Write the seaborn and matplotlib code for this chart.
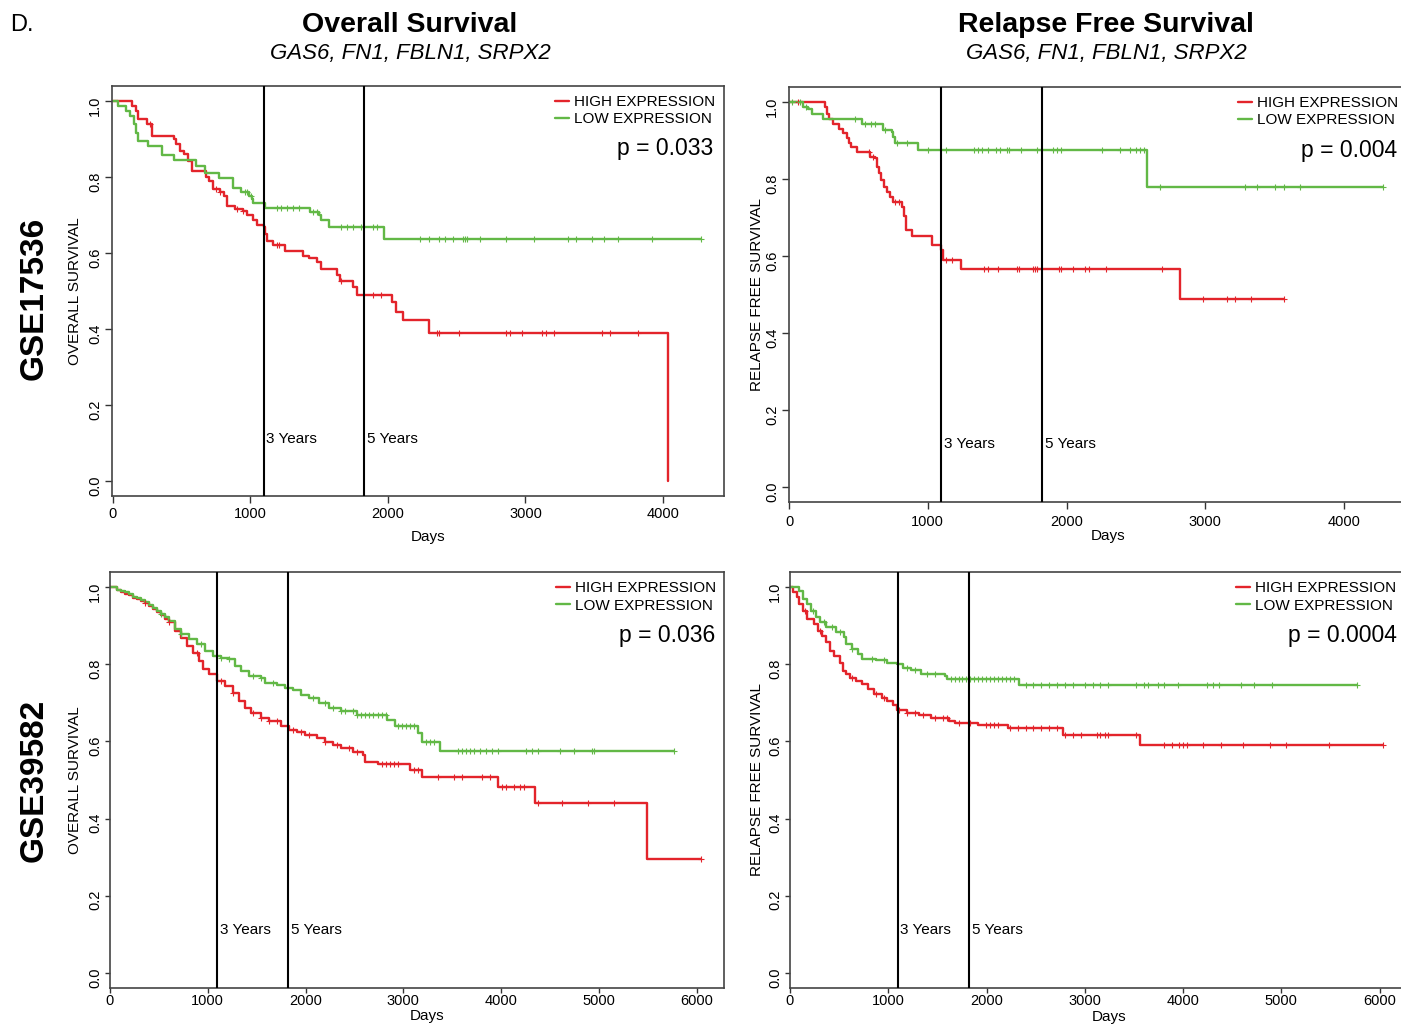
import numpy as np
import pandas as pd
import matplotlib
matplotlib.use('Agg')
import matplotlib.pyplot as plt
import seaborn as sns


# Kaplan-Meier step data (days, survival)

# GSE17536 - overall survival
os17_high_t = [140, 164, 184, 251, 286, 447, 461, 490, 520, 549, 578, 680, 701, 730, 782, 806, 826, 885,
               943, 972, 1016, 1045, 1095, 1104, 1118, 1162, 1250, 1381, 1425, 1483, 1512, 1629, 1650,
               1746, 1775, 2029, 2061, 2111, 2295, 4038]
os17_high_s = [0.987, 0.974, 0.954, 0.941, 0.908, 0.900, 0.886, 0.869, 0.860, 0.843, 0.817, 0.799, 0.790,
               0.769, 0.760, 0.751, 0.725, 0.716, 0.712, 0.699, 0.686, 0.675, 0.668, 0.651, 0.633, 0.620,
               0.605, 0.592, 0.587, 0.576, 0.557, 0.541, 0.526, 0.511, 0.489, 0.472, 0.445, 0.424, 0.390, 0.0]
os17_high_end = 4038
os17_high_cens = [271, 753, 782, 899, 943, 1191, 1206, 1658, 1892, 1950, 2359, 2374, 2520, 2855, 2885,
                  2972, 3118, 3147, 3206, 3556, 3615, 3819]

os17_low_t = [38, 96, 126, 155, 169, 184, 257, 359, 447, 607, 666, 768, 870, 928, 987, 1010, 1022, 1104,
              1431, 1498, 1512, 1571, 1974]
os17_low_s = [0.987, 0.974, 0.961, 0.939, 0.917, 0.895, 0.882, 0.859, 0.845, 0.830, 0.812, 0.797, 0.771,
              0.760, 0.751, 0.742, 0.731, 0.719, 0.707, 0.699, 0.686, 0.668, 0.638]
os17_low_end = 4277
os17_low_cens = [958, 972, 1001, 1191, 1220, 1264, 1308, 1352, 1454, 1483, 1658, 1702, 1746, 1804, 1892,
                 1921, 2234, 2301, 2374, 2418, 2476, 2549, 2563, 2578, 2666, 2855, 3060, 3308, 3367, 3483,
                 3571, 3673, 3921, 4277]

# GSE17536 - relapse free survival
rfs17_high_t = [257, 271, 291, 319, 362, 391, 419, 433, 448, 490, 585, 619, 633, 647, 662, 681, 704, 727,
                747, 813, 827, 841, 884, 1027, 1098, 1112, 1238, 2814]
rfs17_high_s = [0.989, 0.971, 0.958, 0.945, 0.932, 0.919, 0.906, 0.894, 0.885, 0.872, 0.859, 0.855, 0.833,
                0.816, 0.798, 0.781, 0.768, 0.755, 0.742, 0.729, 0.703, 0.668, 0.651, 0.629, 0.616, 0.590,
                0.566, 0.487]
rfs17_high_end = 3570
rfs17_high_cens = [63, 576, 605, 761, 790, 1132, 1175, 1403, 1431, 1503, 1645, 1660, 1759, 1774, 1788,
                   1945, 1959, 2044, 2130, 2158, 2287, 2686, 2985, 3157, 3214, 3328, 3570]

rfs17_low_t = [100, 134, 163, 248, 528, 676, 739, 747, 761, 932, 2581]
rfs17_low_s = [0.989, 0.983, 0.971, 0.957, 0.944, 0.928, 0.924, 0.911, 0.895, 0.876, 0.779]
rfs17_low_end = 4283
rfs17_low_cens = [20, 77, 120, 476, 547, 590, 619, 690, 776, 847, 1004, 1132, 1332, 1360, 1389, 1431,
                  1488, 1517, 1574, 1588, 1674, 1788, 1902, 1930, 1959, 2258, 2387, 2458, 2501, 2529,
                  2558, 2672, 3285, 3370, 3499, 3570, 3684, 4283]

# GSE39582 - overall survival
os39_high_t = [70, 111, 152, 193, 234, 275, 316, 357, 398, 439, 480, 521, 562, 603, 664, 726, 788, 849,
               911, 952, 1013, 1095, 1177, 1259, 1321, 1382, 1444, 1546, 1628, 1751, 1833, 1915, 1998,
               2121, 2203, 2285, 2367, 2490, 2592, 2613, 2736, 3064, 3187, 3966, 4348, 5492]
os39_high_s = [0.994, 0.988, 0.984, 0.979, 0.973, 0.969, 0.965, 0.959, 0.952, 0.945, 0.936, 0.928, 0.917,
               0.909, 0.887, 0.869, 0.848, 0.830, 0.808, 0.787, 0.774, 0.756, 0.743, 0.726, 0.704, 0.686,
               0.673, 0.660, 0.652, 0.639, 0.630, 0.625, 0.617, 0.608, 0.599, 0.591, 0.582, 0.573, 0.564,
               0.547, 0.541, 0.525, 0.508, 0.483, 0.441, 0.294]
os39_high_end = 6046
os39_high_cens = [357, 603, 890, 1136, 1259, 1464, 1546, 1628, 1710, 1874, 1956, 2039, 2203, 2326, 2449,
                  2531, 2777, 2818, 2859, 2900, 2941, 3105, 3146, 3351, 3515, 3597, 3802, 3884, 4007,
                  4048, 4130, 4192, 4233, 4377, 4623, 4889, 5156, 6046]

os39_low_t = [70, 111, 152, 193, 234, 275, 316, 357, 398, 439, 480, 521, 562, 603, 664, 726, 808, 890,
              972, 1054, 1136, 1218, 1280, 1341, 1423, 1546, 1587, 1710, 1792, 1874, 1956, 2039, 2141,
              2244, 2367, 2531, 2838, 2920, 3146, 3187, 3372]
os39_low_s = [0.994, 0.991, 0.987, 0.982, 0.976, 0.972, 0.967, 0.961, 0.954, 0.946, 0.940, 0.932, 0.924,
              0.913, 0.891, 0.878, 0.865, 0.852, 0.834, 0.821, 0.817, 0.813, 0.795, 0.782, 0.769, 0.765,
              0.752, 0.747, 0.739, 0.734, 0.721, 0.713, 0.699, 0.686, 0.678, 0.669, 0.656, 0.639, 0.621,
              0.599, 0.575]
os39_low_end = 5771
os39_low_cens = [521, 726, 931, 1136, 1218, 1464, 1546, 1669, 2080, 2203, 2285, 2367, 2408, 2490, 2531,
                 2572, 2613, 2654, 2695, 2736, 2777, 2818, 2941, 2982, 3023, 3064, 3105, 3228, 3269, 3310,
                 3556, 3597, 3638, 3679, 3720, 3782, 3843, 3905, 3966, 4253, 4315, 4377, 4602, 4746, 4930,
                 4951, 5771]

# GSE39582 - relapse free survival
rfs39_high_t = [28, 68, 88, 129, 169, 249, 289, 329, 369, 410, 450, 510, 542, 570, 610, 671, 731, 791, 851,
                932, 992, 1052, 1092, 1193, 1313, 1434, 1614, 1675, 1916, 1996, 2217, 2779, 3562]
rfs39_high_s = [0.987, 0.974, 0.957, 0.939, 0.918, 0.905, 0.887, 0.874, 0.857, 0.835, 0.822, 0.805, 0.783,
                0.775, 0.766, 0.757, 0.748, 0.735, 0.722, 0.714, 0.705, 0.696, 0.683, 0.675, 0.669, 0.662,
                0.653, 0.649, 0.644, 0.642, 0.636, 0.618, 0.590]
rfs39_high_end = 6032
rfs39_high_cens = [149, 309, 631, 871, 952, 1112, 1193, 1273, 1353, 1474, 1554, 1594, 1715, 1835, 1996,
                   2036, 2076, 2116, 2237, 2317, 2398, 2478, 2558, 2638, 2719, 2799, 2879, 2960, 3120,
                   3160, 3201, 3241, 3522, 3803, 3884, 3964, 4004, 4044, 4205, 4385, 4606, 4888, 5048,
                   5490, 6032]

rfs39_low_t = [88, 129, 169, 209, 269, 309, 369, 470, 550, 570, 631, 691, 731, 871, 992, 1092, 1153, 1233,
               1333, 1574, 1594, 2329]
rfs39_low_s = [0.991, 0.970, 0.957, 0.939, 0.922, 0.909, 0.896, 0.883, 0.870, 0.853, 0.840, 0.827, 0.814,
               0.811, 0.805, 0.801, 0.792, 0.786, 0.776, 0.770, 0.761, 0.746]
rfs39_low_end = 5771
rfs39_low_cens = [229, 349, 430, 510, 631, 831, 952, 1193, 1273, 1394, 1474, 1635, 1675, 1715, 1755, 1795,
                  1835, 1875, 1916, 1956, 1996, 2036, 2076, 2116, 2157, 2197, 2237, 2277, 2398, 2478,
                  2558, 2638, 2719, 2799, 2879, 3000, 3080, 3160, 3241, 3522, 3602, 3642, 3743, 3803,
                  3944, 4245, 4305, 4366, 4586, 4727, 4908, 5771]

p_values = ['p = 0.033', 'p = 0.004', 'p = 0.036', 'p = 0.0004']
col_titles = ['Overall Survival', 'Relapse Free Survival']
gene_set = 'GAS6, FN1, FBLN1, SRPX2'
row_titles = ['GSE17536', 'GSE39582']
ylabels = ['OVERALL SURVIVAL', 'RELAPSE FREE SURVIVAL']
year_marks = [1095, 1825]
year_labels = ['3 Years', '5 Years']


RED = '#e3242b'
GREEN = '#62b846'
W, H = 1401, 1027

sns.set_theme(style='white')
plt.rcParams['font.family'] = ['Liberation Sans', 'DejaVu Sans']
plt.rcParams['text.color'] = 'black'
plt.rcParams['axes.labelcolor'] = 'black'
plt.rcParams['xtick.color'] = 'black'
plt.rcParams['ytick.color'] = 'black'

fig = plt.figure(figsize=(W / 100, H / 100), dpi=100)


def px_axes(left, top, right, bottom):
    return fig.add_axes([left / W, 1 - bottom / H, (right - left) / W, (bottom - top) / H])


def km_frame(t, s, end):
    x = [0] + list(t) + [end]
    y = [1.0] + list(s) + [s[-1]]
    return pd.DataFrame({'days': x, 'surv': y})


def cens_y(t, s, cens):
    tt = np.array([0] + list(t))
    ss = np.array([1.0] + list(s))
    idx = np.searchsorted(tt, np.array(cens), side='right') - 1
    return ss[idx]


def km_panel(ax, curves, xlim, xticks, ylab, pval, box, xlab_y, ylab_off, tick_len, tick_pad,
             leg_right, p_right):
    left, top, right, bottom = box
    width = right - left
    for t, s, end, cens, color, lab in curves:
        df = km_frame(t, s, end)
        sns.lineplot(data=df, x='days', y='surv', drawstyle='steps-post', sort=False, estimator=None,
                     color=color, lw=1.7, ax=ax, label=lab)
        sns.scatterplot(x=cens, y=cens_y(t, s, cens), marker='+', color=color, s=22, linewidth=0.8,
                        ax=ax, legend=False, zorder=3)
    for d, lab in zip(year_marks, year_labels):
        ax.axvline(d, color='black', lw=1.5, zorder=4)
        ax.annotate(lab, xy=(d, 0.11), xytext=(2, 0), textcoords='offset points',
                    ha='left', va='center', fontsize=11)
    ax.set_xlim(*xlim)
    ax.set_ylim(-0.04, 1.04)
    ax.set_xticks(xticks)
    ax.set_xticklabels([str(v) for v in xticks])
    ax.set_yticks([0, 0.2, 0.4, 0.6, 0.8, 1.0])
    ax.set_yticklabels(['0.0', '0.2', '0.4', '0.6', '0.8', '1.0'])
    ax.tick_params(axis='both', direction='out', length=tick_len, width=1, color='#333333',
                   labelsize=10.5, bottom=True, left=True)
    ax.tick_params(axis='x', pad=tick_pad)
    ax.tick_params(axis='y', labelrotation=90, pad=2)
    for sp in ax.spines.values():
        sp.set_color('#444444')
        sp.set_linewidth(1.2)
    ax.set_xlabel('Days', fontsize=11)
    ax.set_ylabel(ylab, fontsize=11)
    ax.xaxis.set_label_coords(0.516, (bottom - xlab_y) / (bottom - top))
    ax.xaxis.label.set_va('center')
    ax.yaxis.set_label_coords(-ylab_off / width, 0.5)
    ax.yaxis.label.set_va('center')
    ax.legend(loc='upper right', bbox_to_anchor=((leg_right - left) / width, 0.978),
              frameon=False, fontsize=11, handlelength=0.9, handletextpad=0.35, labelspacing=0.22,
              borderaxespad=0, borderpad=0)
    ax.text((p_right - left) / width, 0.848, pval,
            transform=ax.transAxes, ha='right', va='center', fontsize=16.5)


boxes = [(112, 86, 724, 496), (789, 87, 1408, 502), (110, 572, 724, 988), (790, 572, 1409, 988)]
xlims = [(-7, 4444), (0, 4460), (0, 6280), (0, 6300)]
xticks_all = [[0, 1000, 2000, 3000, 4000], [0, 1000, 2000, 3000, 4000],
              [0, 1000, 2000, 3000, 4000, 5000, 6000], [0, 1000, 2000, 3000, 4000, 5000, 6000]]
xlab_ys = [537, 536, 1016, 1017]
ylab_offs = [37, 32, 35, 33]
tick_lens = [5, 5, 3.5, 3.5]
tick_pads = [3, 4, 0.5, 1]
leg_rights = [715, 1398, 716, 1396]
p_rights = [713, 1397, 715, 1397]

panel_curves = [
    [(os17_high_t, os17_high_s, os17_high_end, os17_high_cens, RED, 'HIGH EXPRESSION'),
     (os17_low_t, os17_low_s, os17_low_end, os17_low_cens, GREEN, 'LOW EXPRESSION')],
    [(rfs17_high_t, rfs17_high_s, rfs17_high_end, rfs17_high_cens, RED, 'HIGH EXPRESSION'),
     (rfs17_low_t, rfs17_low_s, rfs17_low_end, rfs17_low_cens, GREEN, 'LOW EXPRESSION')],
    [(os39_high_t, os39_high_s, os39_high_end, os39_high_cens, RED, 'HIGH EXPRESSION'),
     (os39_low_t, os39_low_s, os39_low_end, os39_low_cens, GREEN, 'LOW EXPRESSION')],
    [(rfs39_high_t, rfs39_high_s, rfs39_high_end, rfs39_high_cens, RED, 'HIGH EXPRESSION'),
     (rfs39_low_t, rfs39_low_s, rfs39_low_end, rfs39_low_cens, GREEN, 'LOW EXPRESSION')],
]

for i in range(4):
    ax = px_axes(*boxes[i])
    km_panel(ax, panel_curves[i], xlims[i], xticks_all[i], ylabels[i % 2], p_values[i], boxes[i],
             xlab_ys[i], ylab_offs[i], tick_lens[i], tick_pads[i], leg_rights[i], p_rights[i])

# column / row titles
fig.text(10 / W, 1 - 25 / H, 'D.', fontsize=17, ha='left', va='center')
for cx, title in zip([410, 1106], col_titles):
    fig.text(cx / W, 1 - 25 / H, title, fontsize=20.5, fontweight='bold', ha='center', va='center')
    fig.text(cx / W, 1 - 54 / H, gene_set, fontsize=16, fontstyle='italic', ha='center', va='center')
for cy, name in zip([298, 780], row_titles):
    fig.text(34 / W, 1 - cy / H, name, fontsize=24, fontweight='bold', rotation=90, ha='center', va='center')

plt.savefig('out.png', dpi=100)
